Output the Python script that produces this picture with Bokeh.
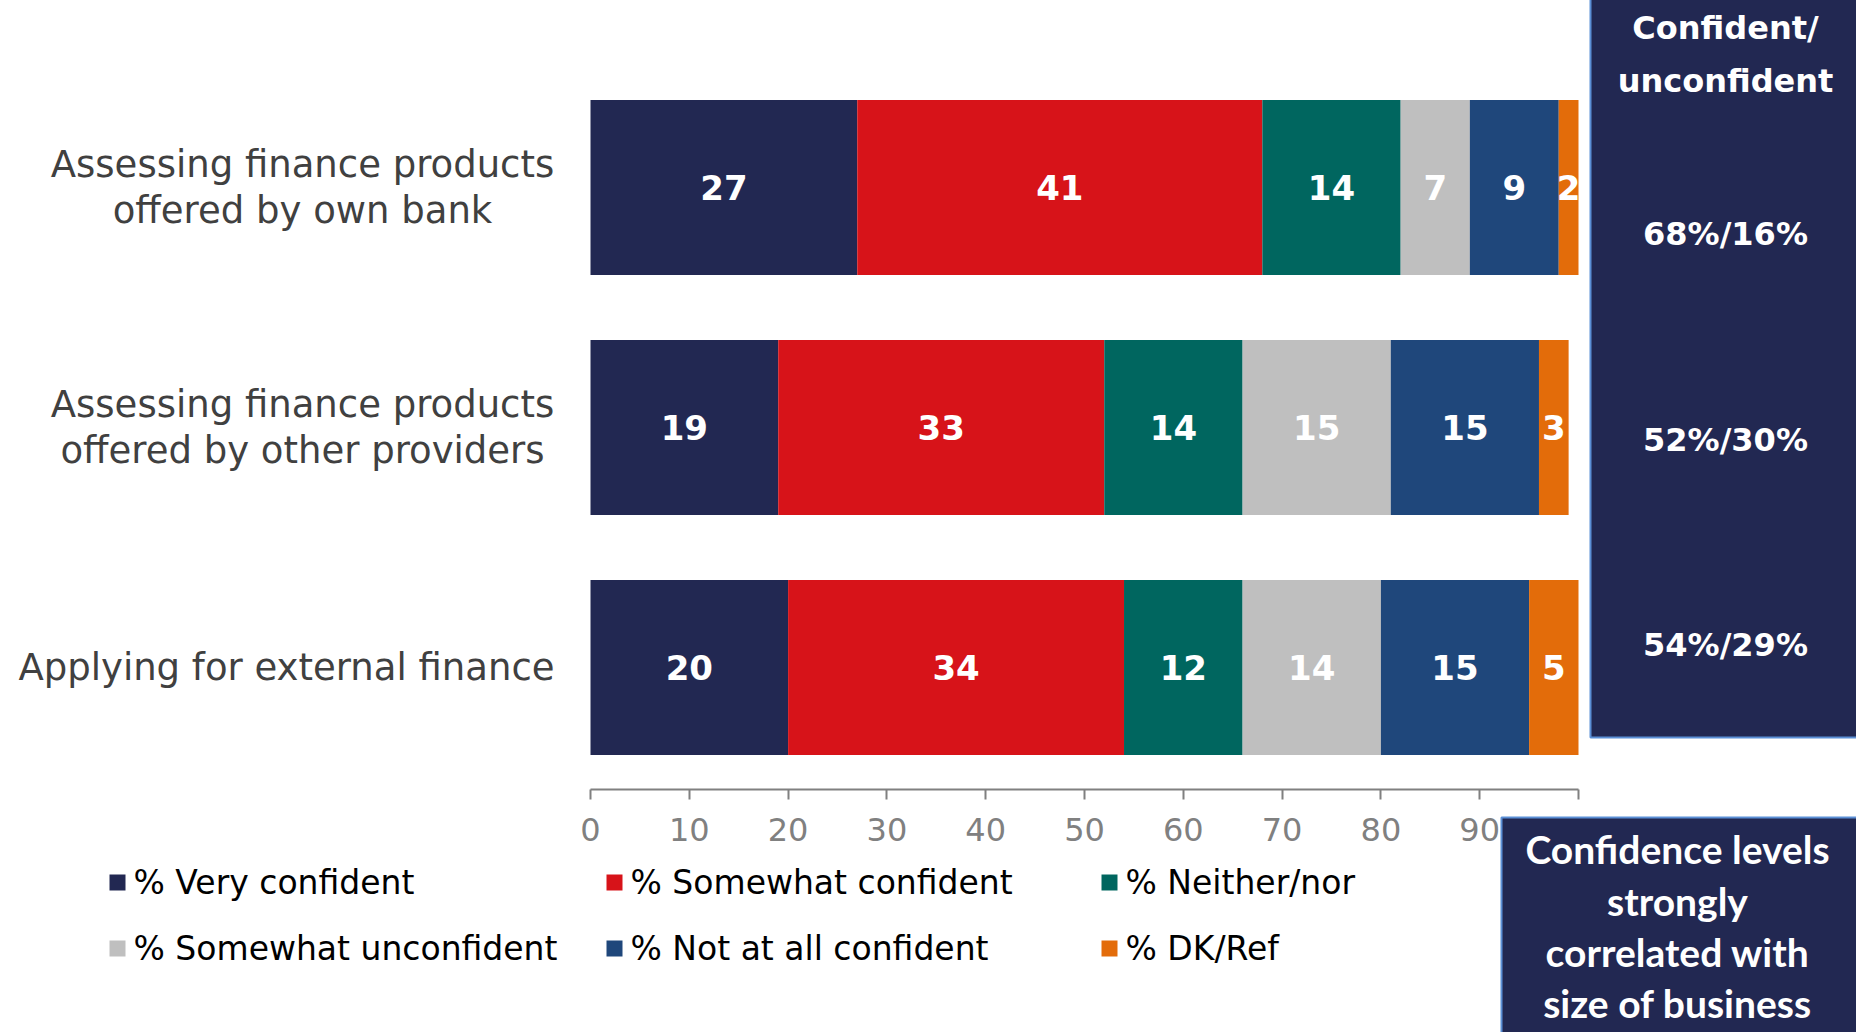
from bokeh.plotting import figure
from bokeh.models import ColumnDataSource, Range1d, FixedTicker
from bokeh.core.properties import value
from bokeh.embed import file_html
from bokeh.resources import INLINE

# ---- data -------------------------------------------------------------
tasks = ["Assessing finance products\noffered by own bank",
         "Assessing finance products\noffered by other providers",
         "Applying for external finance"]
series = ["% Very confident", "% Somewhat confident", "% Neither/nor",
          "% Somewhat unconfident", "% Not at all confident", "% DK/Ref"]
very_confident = [27, 19, 20]
somewhat_confident = [41, 33, 34]
neither_nor = [14, 14, 12]
somewhat_unconfident = [7, 15, 14]
not_at_all_confident = [9, 15, 15]
dk_ref = [2, 3, 5]
x_ticks = [0, 10, 20, 30, 40, 50, 60, 70, 80, 90, 100]
colors = ["#222852", "#d71319", "#00665f", "#bfbfbf", "#1f477b", "#e36c0a"]
panel_title = ["Confident/", "unconfident"]
takeaway = ["Confidence levels", "strongly", "correlated with", "size of business"]

values = [very_confident, somewhat_confident, neither_nor,
          somewhat_unconfident, not_at_all_confident, dk_ref]

# ---- canvas geometry (pixels) and pixel -> data helpers -----------------
W, H = 1856, 1032
FL, FR = 590, 1578          # where 0 and 100 fall across the page
ROW0, PITCH = 187, 240      # centre of the first bar and spacing of bars
PXX = (FR - FL) / 100.0


def X(px):
    return (px - FL) / PXX


def Y(py):
    return (py - ROW0) / PITCH


p = figure(width=W, height=H,
           x_range=Range1d(X(0), X(W)), y_range=Range1d(Y(H), Y(0)),
           y_axis_location=None,
           output_backend="svg", toolbar_location=None,
           min_border_left=0, min_border_right=0,
           min_border_top=0, min_border_bottom=0)
p.outline_line_color = None
p.grid.visible = False
p.background_fill_color = "white"
p.border_fill_color = "white"

rows = list(range(len(tasks)))
src = ColumnDataSource(dict(row=rows, **{s: v for s, v in zip(series, values)}))
renderers = p.hbar_stack(series, y="row", height=0.73, color=colors,
                         line_color=None, source=src)

# value labels centred in each segment
lx, ly, lt = [], [], []
for i in rows:
    left = 0
    for v in values:
        lx.append(left + v[i] / 2)
        ly.append(i)
        lt.append(str(v[i]))
        left += v[i]
p.text(x="x", y="y", text="text", source=ColumnDataSource(dict(x=lx, y=ly, text=lt)),
       text_align="center", text_baseline="middle", text_color="white",
       text_font=value("DejaVu Sans"), text_font_style="bold", text_font_size="34px")

# category labels: multi-line ones centred as a block, single line right-aligned
half_gap = 23 / PITCH
for i, task in enumerate(tasks):
    lines = task.split("\n")
    if len(lines) == 1:
        p.text(x=[X(554)], y=[i], text=[task], text_align="right",
               text_baseline="middle", text_color="#404040",
               text_font=value("DejaVu Sans"), text_font_size="37px")
    else:
        ys = [i - half_gap, i + half_gap]
        p.text(x=[X(302)] * 2, y=ys, text=lines, text_align="center",
               text_baseline="middle", text_color="#404040",
               text_font=value("DejaVu Sans"), text_font_size="37px")

# x axis pinned just under the last bar
xa = p.xaxis[0]
xa.fixed_location = Y(789)
xa.bounds = (0, 100)
xa.ticker = FixedTicker(ticks=x_ticks)
xa.axis_line_color = "#808080"
xa.axis_line_width = 2
xa.major_tick_line_color = "#808080"
xa.major_tick_line_width = 2
xa.major_tick_out = 10
xa.major_tick_in = 0
xa.minor_tick_line_color = None
xa.major_label_text_color = "#808080"
xa.major_label_text_font = "DejaVu Sans"
xa.major_label_text_font_size = "32px"
xa.major_label_standoff = 18

# legend: three columns, two rows
col_px = [109, 606, 1101]
row_px = [882, 948]
sw_x, sw_y, tx_x = [], [], []
for k in range(len(series)):
    c, r = k % 3, k // 3
    sw_x.append(X(col_px[c] + 8))
    sw_y.append(Y(row_px[r]))
    tx_x.append(X(col_px[c] + 24))
p.rect(x=sw_x, y=sw_y, width=16, height=16, width_units="screen",
       height_units="screen", fill_color=colors, line_color=None)
p.text(x=tx_x, y=sw_y, text=series, text_align="left", text_baseline="middle",
       text_color="#000000", text_font=value("DejaVu Sans"), text_font_size="33px")

# summary panel on the right
panel_fill = "#222852"
panel_edge = "#5b8fd6"
p.quad(left=[X(1590)], right=[X(W + 20)], top=[Y(-20)], bottom=[Y(737)],
       fill_color=panel_fill, line_color=panel_edge, line_width=2, level="overlay")
p.text(x=[X(1725)] * 2, y=[Y(27), Y(80)], text=panel_title,
       text_align="center", text_baseline="middle", text_color="white",
       text_font=value("DejaVu Sans"), text_font_style="bold",
       text_font_size="32px", level="overlay")
summary = [f"{very_confident[i] + somewhat_confident[i]}%/"
           f"{somewhat_unconfident[i] + not_at_all_confident[i]}%" for i in rows]
p.text(x=[X(1725)] * 3, y=[Y(233), Y(439), Y(644)], text=summary,
       text_align="center", text_baseline="middle", text_color="white",
       text_font=value("DejaVu Sans"), text_font_style="bold",
       text_font_size="32px", level="overlay")

# takeaway box, bottom right (sits over the last tick label)
p.quad(left=[X(1501)], right=[X(W + 20)], top=[Y(817)], bottom=[Y(H + 20)],
       fill_color=panel_fill, line_color=panel_edge, line_width=2, level="overlay")
p.text(x=[X(1677)] * 4, y=[Y(848), Y(900), Y(951), Y(1002)], text=takeaway,
       text_align="center", text_baseline="middle", text_color="white",
       text_font=value("Lato"), text_font_style="bold",
       text_font_size="39px", level="overlay")

open("out.html", "w").write(file_html(p, INLINE))
